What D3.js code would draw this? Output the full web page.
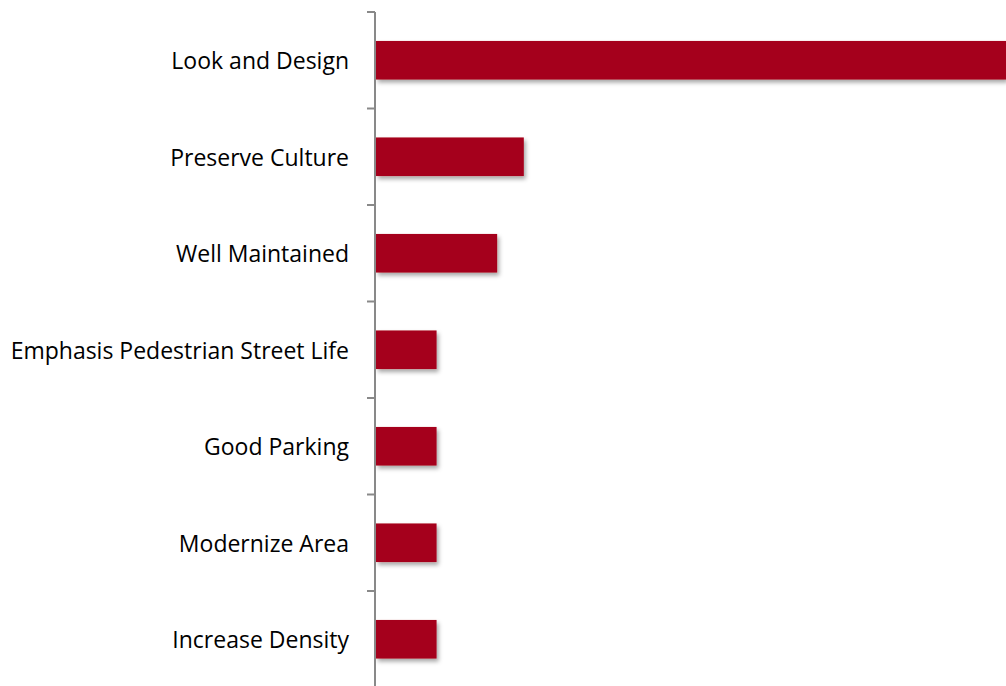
<!DOCTYPE html>
<html><head><meta charset="utf-8">
<script src="https://cdn.jsdelivr.net/npm/d3@7"></script>
<style>html,body{margin:0;padding:0;background:#fff;overflow:hidden}</style>
</head><body>
<svg id="chart" width="1006" height="686"></svg>
<script>
const categories = ["Look and Design","Preserve Culture","Well Maintained","Emphasis Pedestrian Street Life","Good Parking","Modernize Area","Increase Density"];
const values = [52,12.2,10,5,5,5,5];

const svg = d3.select("#chart");
const axisX = 375;
const x = d3.scaleLinear().domain([0,52]).range([axisX+1, 1006]);
const y = d3.scaleBand().domain(categories).range([12, 687.5]).paddingInner(0.6).paddingOuter(0.3);

const defs = svg.append("defs");
const f = defs.append("filter").attr("id","sh").attr("x","-5%").attr("y","-20%").attr("width","120%").attr("height","160%");
f.append("feDropShadow").attr("dx",2).attr("dy",3).attr("stdDeviation",2.2).attr("flood-color","#000").attr("flood-opacity",0.35);

svg.append("g").selectAll("rect").data(values).join("rect")
  .attr("x", x(0))
  .attr("y", (d,i)=>y(categories[i]))
  .attr("width", d=>x(d)-x(0))
  .attr("height", y.bandwidth())
  .attr("fill","#A5001B")
  .attr("filter","url(#sh)");

const step = y.step();
const g = svg.append("g");
g.append("line").attr("x1",axisX).attr("x2",axisX).attr("y1",12).attr("y2",687.5).attr("stroke","#898989").attr("stroke-width",2);
const bounds = d3.range(categories.length+1).map(i=>12+i*step);
g.selectAll("line.t").data(bounds).join("line").attr("class","t")
  .attr("x1",axisX-8).attr("x2",axisX).attr("y1",d=>d).attr("y2",d=>d)
  .attr("stroke","#898989").attr("stroke-width",2);

svg.append("g").selectAll("text").data(categories).join("text")
  .attr("x", 349).attr("y", d=>y(d)+y.bandwidth()/2)
  .attr("text-anchor","end").attr("dominant-baseline","central")
  .attr("font-family","'Open Sans', sans-serif").attr("font-size",23)
  .attr("fill","#000").text(d=>d);
</script>
</body></html>
